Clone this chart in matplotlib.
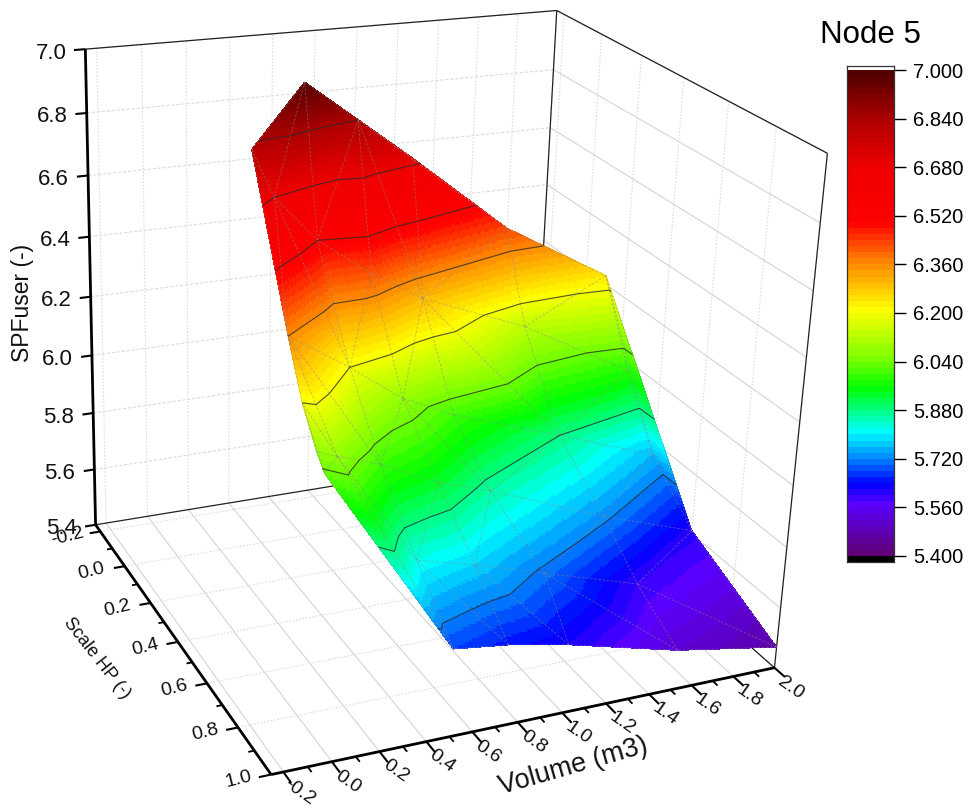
import numpy as np
import matplotlib
matplotlib.use("Agg")
import matplotlib.pyplot as plt
import matplotlib.tri as mtri
from matplotlib.colors import BoundaryNorm, LinearSegmentedColormap
from mpl_toolkits.mplot3d import proj3d

plt.rcParams["font.family"] = ["Liberation Sans", "DejaVu Sans"]

# mesh nodes
volume = [0.49, 0.21, 0.75, 1.01, 1.49, 1.98, 0.29, 0.50, 0.20, 0.71, 0.98, 1.53,
          0.20, 0.52, 0.22, 0.23, 0.28, 0.76, 0.51, 1.00, 0.75, 1.01, 1.51, 0.51,
          0.76, 1.98, 1.99, 1.545, 1.53, 1.08, 0.50, 0.75, 1.01, 1.53, 2.00, 2.00]
scale_hp = [0.12, 0.19, 0.10, 0.10, 0.09, 0.12, 0.22, 0.20, 0.44, 0.25, 0.22, 0.17,
            0.53, 0.38, 0.59, 0.625, 0.63, 0.39, 0.58, 0.39, 0.61, 0.59, 0.40, 0.79,
            0.80, 0.26, 0.40, 0.78, 0.62, 0.80, 1.00, 0.99, 1.00, 0.99, 0.60, 1.00]
spf = [6.98, 6.82, 6.84, 6.70, 6.43, 6.24, 6.68, 6.52, 6.36, 6.42, 6.30, 6.13,
       6.20, 6.20, 6.08, 6.03, 6.08, 6.08, 6.00, 6.00, 5.93, 5.86, 5.88, 5.82,
       5.78, 5.98, 5.76, 5.60, 5.73, 5.71, 5.68, 5.65, 5.62, 5.52, 5.61, 5.47]
front_row = [30, 31, 32, 33, 35]  # nodes along the front edge

x_ticks = [-0.2, 0.0, 0.2, 0.4, 0.6, 0.8, 1.0, 1.2, 1.4, 1.6, 1.8, 2.0]
y_ticks = [-0.2, 0.0, 0.2, 0.4, 0.6, 0.8, 1.0]
z_ticks = [5.4, 5.6, 5.8, 6.0, 6.2, 6.4, 6.6, 6.8, 7.0]
bar_ticks = [5.4, 5.56, 5.72, 5.88, 6.04, 6.2, 6.36, 6.52, 6.68, 6.84, 7.0]
contour_levels = [5.72, 5.88, 6.04, 6.2, 6.36, 6.52, 6.68, 6.84]
color_stops = [(5.40, "#5f0078"), (5.56, "#5a00ff"), (5.63, "#0000ff"), (5.72, "#008cff"), (5.80, "#00ffff"),
               (5.95, "#00ff00"), (6.05, "#80ff00"), (6.21, "#ffff00"), (6.36, "#ff8c00"), (6.50, "#ff0000"),
               (6.68, "#f00000"), (6.84, "#b00000"), (7.00, "#500000")]

xmin, xmax = -0.25, 2.0
ymin, ymax = -0.24, 1.0
zmin, zmax = 5.4, 7.0

W, H = 969, 807
fig = plt.figure(figsize=(W / 100, H / 100), dpi=100)
L = 899.5
ax = fig.add_axes([-34.4 / W, -11.2 / H, L / W, L / H], projection="3d", computed_zorder=False)
ax.set_xlim(xmin, xmax)
ax.set_ylim(ymax, ymin)
ax.set_zlim(zmin, zmax)
ax.view_init(22.559, -115.19, -2.114)
ax.set_proj_type("persp", focal_length=0.4909)
ax.set_box_aspect((1, 1.0043, 1.0013))
ax.set_axis_off()

lo = color_stops[0][0]
hi = color_stops[-1][0]
cmap = LinearSegmentedColormap.from_list("node", [((v - lo) / (hi - lo), c) for v, c in color_stops], N=512)
levels = np.linspace(5.4, 7.0, 81)
norm = BoundaryNorm(levels, cmap.N)


def line(xs, ys, zs, color="#000000", lw=1.0, ls="-", z=1):
    ax.plot(xs, ys, zs, color=color, lw=lw, ls=ls, zorder=z, solid_capstyle="butt")


# grid on floor and walls
solid_grid = "#d8d8d8"
dot_grid = "#dcdcdc"
for v in x_ticks:
    line([v, v], [ymin, ymax], [zmin, zmin], solid_grid, 0.9)
    line([v, v], [ymin, ymin], [zmin, zmax], dot_grid, 0.8, (0, (1.5, 1.5)))
for v in y_ticks:
    line([xmin, xmax], [v, v], [zmin, zmin], dot_grid, 0.8, (0, (1.5, 1.5)))
    line([xmax, xmax], [v, v], [zmin, zmax], dot_grid, 0.8, (0, (1.5, 1.5)))
for v in z_ticks[1:]:
    line([xmin, xmax], [ymin, ymin], [v, v], dot_grid, 0.8, (0, (3, 1.5)))
    line([xmax, xmax], [ymin, ymax], [v, v], solid_grid, 0.9)

# thin frame
line([xmin, xmax], [ymin, ymin], [zmin, zmin], "#222222", 0.9, z=2)
line([xmax, xmax], [ymin, ymax], [zmin, zmin], "#222222", 0.9, z=2)
line([xmax, xmax], [ymin, ymin], [zmin, zmax], "#222222", 0.9, z=2)
line([xmin, xmax], [ymin, ymin], [zmax, zmax], "#222222", 0.9, z=2)
line([xmax, xmax], [ymin, ymax], [zmax, zmax], "#222222", 0.9, z=2)
line([xmax, xmax], [ymax, ymax], [zmin, zmax], "#222222", 0.9, z=2)

# surface
tri_all = mtri.Triangulation(volume, scale_hp)
keep = ~np.all(np.isin(tri_all.triangles, front_row), axis=1)
tri = mtri.Triangulation(volume, scale_hp, triangles=tri_all.triangles[keep])
refiner = mtri.UniformTriRefiner(tri)
fine_tri, fine_z = refiner.refine_field(np.array(spf), triinterpolator=mtri.LinearTriInterpolator(tri, np.array(spf)), subdiv=5)
ax.plot_trisurf(fine_tri, fine_z, cmap=cmap, norm=norm, linewidth=0, antialiased=False, zorder=3)

# mesh lines
vx, vy, vz = np.array(volume), np.array(scale_hp), np.array(spf)
for i, j in tri.edges:
    ax.plot(vx[[i, j]], vy[[i, j]], vz[[i, j]], color="#8a8a8a", lw=0.6, ls=(0, (3, 2)), alpha=0.55, zorder=4)

# contour lines
ax.tricontour(tri, vz, levels=contour_levels, colors="#2a2a2a", linewidths=0.8, alpha=0.8, zorder=5)

# axis lines
line([xmin, xmax], [ymax, ymax], [zmin, zmin], lw=2.0, z=6)
line([xmin, xmin], [ymin, ymax], [zmin, zmin], lw=2.0, z=6)
line([xmin, xmin], [ymin, ymin], [zmin, zmax], lw=2.0, z=6)

M = ax.get_proj()


def label(x, y, z, text, dx, dy, size, rot=0, ha="center", va="center"):
    u, v, _ = proj3d.proj_transform(x, y, z, M)
    ax.annotate(text, (u, v), xytext=(dx, dy), textcoords="offset pixels", fontsize=size, rotation=rot,
                ha=ha, va=va, rotation_mode="anchor", annotation_clip=False, color="#111111")


for i, v in enumerate(x_ticks):
    line([v, v], [ymax, ymax + 0.045], [zmin, zmin], lw=1.5, z=6)
    if v < xmax:
        mid = round(v + 0.1, 2)
        line([mid, mid], [ymax, ymax + 0.022], [zmin, zmin], lw=1.3, z=6)
    label(v, ymax, zmin, f"{v:.1f}", 16, -20, 14, -35)
for v in y_ticks:
    line([xmin, xmin - 0.05], [v, v], [zmin, zmin], lw=1.5, z=6)
    if v < ymax:
        mid = round(v + 0.1, 2)
        line([xmin, xmin - 0.025], [mid, mid], [zmin, zmin], lw=1.3, z=6)
    label(xmin, v, zmin, f"{v:.1f}", -33, -5, 14, 14)
for v in z_ticks:
    line([xmin, xmin - 0.05], [ymin, ymin], [v, v], lw=1.5, z=6)
    label(xmin, ymin, v, f"{v:.1f}", -19, -4, 16, ha="right")

label(0.8, 1.0, zmin, "Volume (m3)", 56, -44, 19.5, 16)
label(xmin, 0.5, zmin, "Scale HP (-)", -95, 4, 13, -52)
fig.text(22 / W, 1 - 303 / H, "SPFuser (-)", rotation=90, fontsize=16.5, ha="center", va="center", color="#111111")

# colour bar
fig.text(820 / W, 1 - 43 / H, "Node 5", fontsize=22.5, ha="left", va="baseline")
cax = fig.add_axes([847 / W, 1 - 562 / H, 47 / W, 496 / H])
cax.pcolormesh([0, 1], levels, (levels[:-1] + 0.01).reshape(-1, 1), cmap=cmap, norm=norm)
cax.axhspan(5.3802, 5.4, color="#000000", lw=0)
cax.set_ylim(5.3802, 7.0132)
cax.set_xlim(0, 1)
cax.set_xticks([])
cax.yaxis.tick_right()
cax.set_yticks(bar_ticks, [f"{v:.3f}" for v in bar_ticks])
cax.tick_params(axis="y", length=8.5, width=1.0, labelsize=14.5, pad=5)
for sp in cax.spines.values():
    sp.set_linewidth(0.9)
    sp.set_color("#333333")

fig.savefig("out.png", dpi=100)
